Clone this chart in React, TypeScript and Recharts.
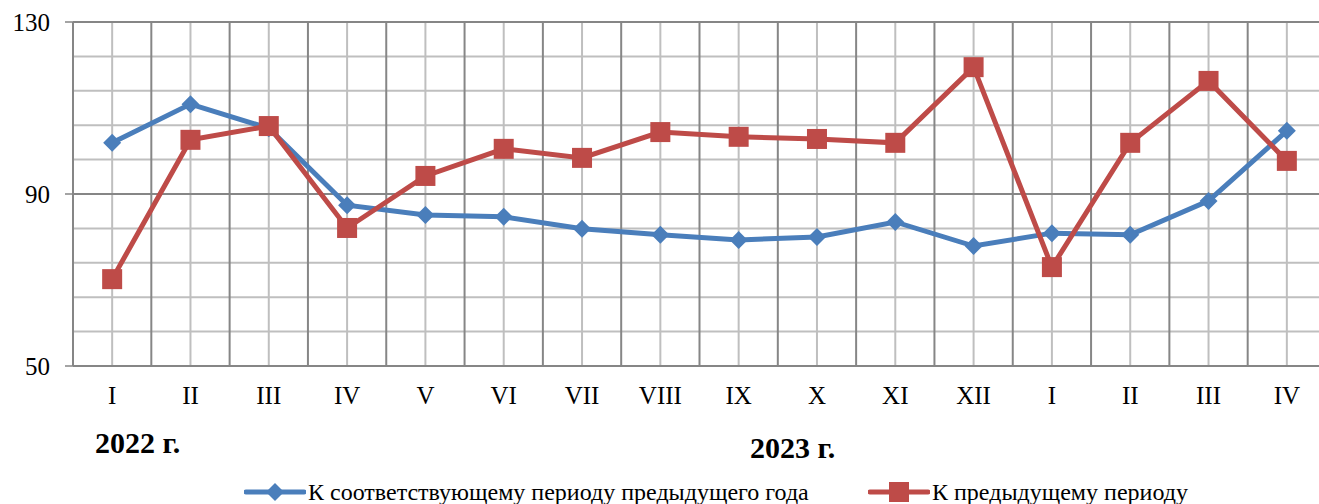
import React from "react";
import {
  LineChart,
  Line,
  XAxis,
  YAxis,
  ReferenceLine,
  Legend,
} from "recharts";

const periods = ["I", "II", "III", "IV", "V", "VI", "VII", "VIII", "IX", "X", "XI", "XII", "I", "II", "III", "IV"];
const toPrevYear = [101.9, 110.9, 105.3, 87.4, 85.1, 84.7, 81.9, 80.5, 79.3, 80.0, 83.5, 77.9, 80.9, 80.5, 88.4, 104.7];
const toPrevPeriod = [70.2, 102.6, 105.8, 82.1, 94.2, 100.5, 98.4, 104.4, 103.3, 102.8, 101.9, 119.5, 73.0, 101.9, 116.3, 97.7];
const yMajor = [50, 90, 130];
const yMinor = [58, 66, 74, 82, 98, 106, 114, 122];
const yearLabels = ["2022 г.", "2023 г."];
const seriesNames = ["К соответствующему периоду предыдущего года", "К предыдущему периоду"];

const BLUE = "#4a7ebb";
const RED = "#be4b48";
const DARK = "#868686";
const LIGHT = "#bfbfbf";
const FONT = "'Liberation Serif', 'Times New Roman', serif";

const data = periods.map((p, i) => ({
  x: i + 0.5,
  period: p,
  prevYear: toPrevYear[i],
  prevPeriod: toPrevPeriod[i],
}));

const boundaries = periods.map((_, i) => i).concat([periods.length]);
const centers = periods.map((_, i) => i + 0.5);

function Diamond(props: any) {
  const { cx, cy } = props;
  if (cx == null || cy == null) return null;
  const r = 9;
  return (
    <polygon
      points={`${cx},${cy - r} ${cx + r},${cy} ${cx},${cy + r} ${cx - r},${cy}`}
      fill={BLUE}
    />
  );
}

function Square(props: any) {
  const { cx, cy } = props;
  if (cx == null || cy == null) return null;
  const s = 10;
  return <rect x={cx - s} y={cy - s} width={s * 2} height={s * 2} fill={RED} />;
}

function LegendBox() {
  const item = (name: string, color: string, square: boolean) => (
    <span style={{ display: "inline-flex", alignItems: "center" }}>
      <svg width={62} height={20}>
        <line x1={2} y1={10} x2={60} y2={10} stroke={color} strokeWidth={5} strokeLinecap="round" />
        {square ? (
          <rect x={21} y={0} width={20} height={20} fill={color} />
        ) : (
          <polygon points="31,1 40,10 31,19 22,10" fill={color} />
        )}
      </svg>
      <span style={{ marginLeft: 2 }}>{name}</span>
    </span>
  );
  return (
    <div
      style={{
        fontFamily: FONT,
        fontSize: 24,
        lineHeight: "26px",
        color: "#000",
        position: "relative",
        height: 26,
      }}
    >
      <div style={{ position: "absolute", left: 244, top: 0 }}>{item(seriesNames[0], BLUE, false)}</div>
      <div style={{ position: "absolute", left: 868, top: 0 }}>{item(seriesNames[1], RED, true)}</div>
    </div>
  );
}

const yearStyle: React.CSSProperties = {
  position: "absolute",
  fontFamily: FONT,
  fontSize: 30,
  lineHeight: 1,
  fontWeight: "bold",
  color: "#000",
};

export default function App() {
  return (
    <div
      style={{
        position: "absolute",
        left: 0,
        top: 0,
        width: 1319,
        height: 504,
        overflow: "hidden",
        background: "#fff",
      }}
    >
      <LineChart
        width={1330}
        height={504}
        data={data}
        margin={{ top: 22, right: 4, left: 0, bottom: 54 }}
      >
        <XAxis
          xAxisId="b"
          dataKey="x"
          type="number"
          domain={[0, periods.length]}
          ticks={centers}
          tickFormatter={(v: number) => periods[Math.floor(v)]}
          axisLine={false}
          tickLine={false}
          tickSize={0}
          tickMargin={12}
          height={50}
          tick={{ fontFamily: FONT, fontSize: 25, fill: "#000" }}
        />
        <XAxis
          xAxisId="a"
          dataKey="x"
          type="number"
          domain={[0, periods.length]}
          ticks={boundaries}
          tick={false}
          tickSize={8}
          height={8}
          axisLine={{ stroke: DARK, strokeWidth: 2 }}
          tickLine={{ stroke: DARK, strokeWidth: 1.5 }}
        />
        <YAxis
          type="number"
          domain={[50, 130]}
          ticks={yMajor}
          width={73}
          tickSize={8}
          tickMargin={15}
          axisLine={{ stroke: DARK, strokeWidth: 2 }}
          tickLine={{ stroke: DARK, strokeWidth: 1.5 }}
          tick={{ fontFamily: FONT, fontSize: 25, fill: "#000" }}
        />
        {yMinor.map((v) => (
          <ReferenceLine key={`ym${v}`} xAxisId="a" y={v} stroke={LIGHT} strokeWidth={2} />
        ))}
        {centers.map((v) => (
          <ReferenceLine key={`xc${v}`} xAxisId="a" x={v} stroke={LIGHT} strokeWidth={2} />
        ))}
        {yMajor.map((v) => (
          <ReferenceLine key={`yM${v}`} xAxisId="a" y={v} stroke={DARK} strokeWidth={2} />
        ))}
        {boundaries.map((v) => (
          <ReferenceLine key={`xb${v}`} xAxisId="a" x={v} stroke={DARK} strokeWidth={2} />
        ))}
        <Line
          xAxisId="a"
          type="linear"
          dataKey="prevYear"
          name={seriesNames[0]}
          stroke={BLUE}
          strokeWidth={5}
          dot={<Diamond />}
          activeDot={false}
          isAnimationActive={false}
        />
        <Line
          xAxisId="a"
          type="linear"
          dataKey="prevPeriod"
          name={seriesNames[1]}
          stroke={RED}
          strokeWidth={5}
          dot={<Square />}
          activeDot={false}
          isAnimationActive={false}
        />
        <Legend
          content={<LegendBox />}
          wrapperStyle={{ position: "absolute", left: 0, top: 479, width: 1330, height: 26 }}
        />
      </LineChart>
      <div style={{ ...yearStyle, left: 95, top: 428 }}>{yearLabels[0]}</div>
      <div style={{ ...yearStyle, left: 750, top: 433 }}>{yearLabels[1]}</div>
    </div>
  );
}
